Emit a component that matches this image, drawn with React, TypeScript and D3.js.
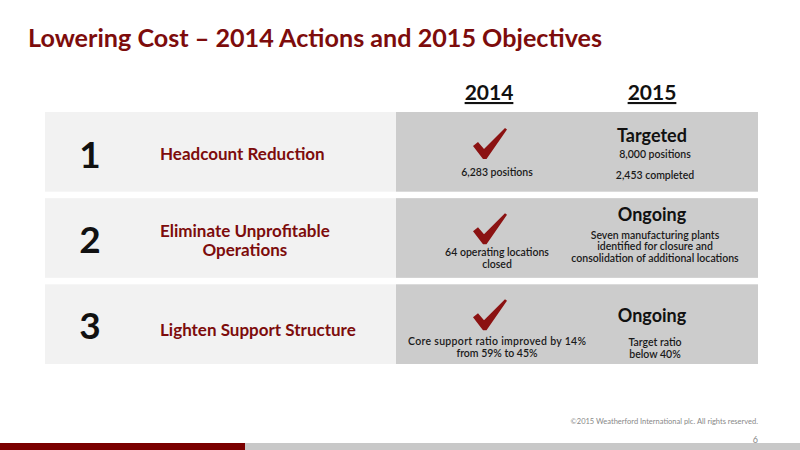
import * as d3 from "d3";
import { useEffect, useRef } from "react";

// slide content
const title = "Lowering Cost – 2014 Actions and 2015 Objectives";
const years = ["2014", "2015"];
const rowNumbers = ["1", "2", "3"];
const objectives = [["Headcount Reduction"], ["Eliminate Unprofitable", "Operations"], ["Lighten Support Structure"]];
const results2014 = [["6,283 positions"], ["64 operating locations", "closed"], ["Core support ratio improved by 14%", "from 59% to 45%"]];
const status2015 = ["Targeted", "Ongoing", "Ongoing"];
const notes2015 = [
  ["8,000 positions", "2,453 completed"],
  ["Seven manufacturing plants", "identified for closure and", "consolidation of additional locations"],
  ["Target ratio", "below 40%"],
];
const footer = "©2015 Weatherford International plc.  All rights reserved.";
const pageNumber = "6";

// vertical placement inside each row (offsets from row top)
const layout = [
  { num: 41, label: 41, check: 16, res: 60, resGap: 11, status: 23, note: 42, noteGap: 21 },
  { num: 40, label: 32, check: 15, res: 54, resGap: 11.5, status: 16, note: 36.5, noteGap: 11.5 },
  { num: 40, label: 45, check: 15, res: 57, resGap: 12, status: 31, note: 58, noteGap: 11.5 },
];

const W = 800;
const H = 450;
const RED = "#7d0c0c";
const FONT = "Lato, 'Noto Sans', sans-serif";

const checkPath = "M0,18 L5,14 L11,21 L32,0 L34,1.5 L13.5,31 L10,31 Z";

export default function App() {
  const svgRef = useRef<SVGSVGElement>(null);

  const y = d3.scaleBand<number>().domain([0, 1, 2]).range([112, 364]).paddingInner(0.075);
  const col = d3.scaleOrdinal<string, number>().domain(years).range([489, 652]);

  useEffect(() => {
    // left-align each objective block at x=160, lines centred on each other
    d3.select(svgRef.current)
      .selectAll<SVGGElement, unknown>("g.objective")
      .each(function () {
        const g = d3.select(this);
        const box = (this as SVGGElement).getBBox();
        g.attr("transform", `translate(${160 - box.x},0)`);
      });
  }, []);

  return (
    <svg ref={svgRef} width={W} height={H} style={{ position: "absolute", left: 0, top: 0 }} fontFamily={FONT}>
      <rect width={W} height={H} fill="#ffffff" />
      <text x={28} y={47} fill={RED} fontSize={24} fontWeight={700} textLength={574} lengthAdjust="spacingAndGlyphs">
        {title}
      </text>

      {years.map((yr) => (
        <text key={yr} x={col(yr)} y={100} textAnchor="middle" fontSize={21} fontWeight={700} fill="#111" textDecoration="underline">
          {yr}
        </text>
      ))}

      {rowNumbers.map((n, i) => {
        const top = y(i) as number;
        const bh = i === 2 ? 364 - top : y.bandwidth();
        const L = layout[i];
        return (
          <g key={n}>
            <rect x={45} y={top} width={351} height={bh} fill="#f2f2f2" />
            <rect x={396} y={top} width={362} height={bh} fill="#cccccc" />
            <text x={90} y={top + L.num} dominantBaseline="central" textAnchor="middle" fontSize={37} fontWeight={700} fill="#111">
              {n}
            </text>
            <g className="objective">
              {objectives[i].map((line, j) => (
                <text key={j} x={0} y={top + L.label + j * 19} dominantBaseline="central" textAnchor="middle" fontSize={17} fontWeight={700} fill={RED}>
                  {line}
                </text>
              ))}
            </g>
            <path d={checkPath} transform={`translate(473,${top + L.check})`} fill="#8b1212" />
            {results2014[i].map((line, j) => (
              <text key={j} x={col("2014") + 8} y={top + L.res + j * L.resGap} dominantBaseline="central" textAnchor="middle" fontSize={10.5} fontWeight={600} fill="#1a1a1a" textLength={i === 2 && j === 0 ? 178 : undefined}>
                {line}
              </text>
            ))}
            <text x={col("2015")} y={top + L.status} dominantBaseline="central" textAnchor="middle" fontSize={18} fontWeight={700} fill="#111">
              {status2015[i]}
            </text>
            {notes2015[i].map((line, j) => (
              <text key={j} x={col("2015") + 3} y={top + L.note + j * L.noteGap} dominantBaseline="central" textAnchor="middle" fontSize={10.5} fontWeight={600} fill="#1a1a1a">
                {line}
              </text>
            ))}
          </g>
        );
      })}

      <text x={758} y={421} dominantBaseline="central" textAnchor="end" fontSize={7.5} fill="#888">
        {footer}
      </text>
      <text x={758} y={439} dominantBaseline="central" textAnchor="end" fontSize={9} fill="#888">
        {pageNumber}
      </text>
      <rect x={0} y={443} width={245} height={7} fill="#7a0000" />
      <rect x={245} y={443} width={555} height={7} fill="#c8c8c8" />
    </svg>
  );
}
